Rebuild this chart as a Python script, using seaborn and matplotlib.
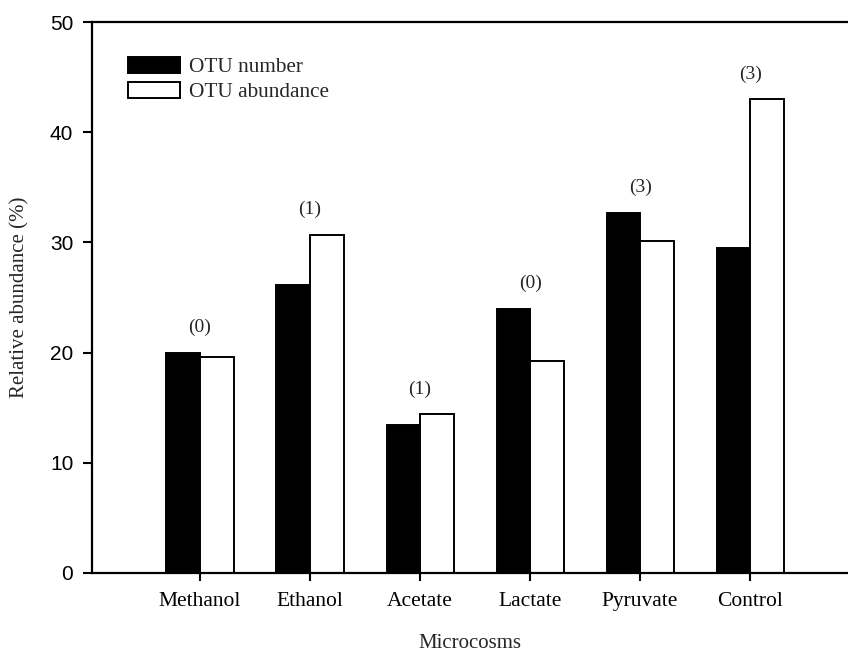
import matplotlib
matplotlib.use("Agg")
import matplotlib.pyplot as plt
import seaborn as sns
import pandas as pd

# Relative abundance (%) per microcosm
microcosms = ["Methanol", "Ethanol", "Acetate", "Lactate", "Pyruvate", "Control"]
otu_number = [20.0, 26.1, 13.4, 24.0, 32.7, 29.5]
otu_abundance = [19.6, 30.7, 14.4, 19.2, 30.1, 43.0]
# counts shown in parentheses above each group
group_counts = ["(0)", "(1)", "(1)", "(0)", "(3)", "(3)"]
series_names = ["OTU number", "OTU abundance"]
y_ticks = [0, 10, 20, 30, 40, 50]

df = pd.DataFrame({
    "Microcosm": microcosms * 2,
    "Series": [series_names[0]] * len(microcosms) + [series_names[1]] * len(microcosms),
    "Value": otu_number + otu_abundance,
})

sns.set_theme(style="ticks")
serif = ["Liberation Serif", "DejaVu Serif"]
sans = ["Liberation Sans", "DejaVu Sans"]

fig = plt.figure(figsize=(8.48, 6.55), dpi=100)
ax = fig.add_axes([92 / 848, 82 / 655, 1 - 92 / 848, 551 / 655])

sns.barplot(
    data=df, x="Microcosm", y="Value", hue="Series",
    order=microcosms, hue_order=series_names,
    palette=["black", "white"], edgecolor="black", linewidth=1.4,
    width=0.61, gap=0, errorbar=None, ax=ax,
)

ax.set_ylim(0, 50)
ax.set_xlim(-0.982, 5.89)
ax.set_yticks(y_ticks)
ax.set_yticklabels([str(t) for t in y_ticks], fontfamily=sans, fontsize=15)
ax.set_xticks(range(len(microcosms)))
ax.set_xticklabels(microcosms, fontfamily=serif, fontsize=15.5)
ax.tick_params(axis="y", direction="out", length=6.5, width=1.5, pad=7, colors="black")
ax.tick_params(axis="x", direction="out", length=6, width=1.5, pad=8, colors="black")

for side in ["left", "bottom", "top"]:
    ax.spines[side].set_visible(True)
    ax.spines[side].set_linewidth(1.6)
    ax.spines[side].set_color("black")
ax.spines["right"].set_visible(False)

ax.set_ylabel("Relative abundance (%)", fontfamily=serif, fontsize=15)
ax.set_xlabel("Microcosms", fontfamily=serif, fontsize=15)
ax.yaxis.set_label_coords(-0.083, 0.5)
ax.xaxis.set_label_coords(0.5, -0.11)

# group count labels above the taller bar of each pair
for i, label in enumerate(group_counts):
    top = max(otu_number[i], otu_abundance[i])
    ax.annotate(label, xy=(i, top), xytext=(0, 18), textcoords="offset points",
                ha="center", va="center", fontfamily=serif, fontsize=14)

handles, labels = ax.get_legend_handles_labels()
for h in handles:
    h.set_edgecolor("black")
    h.set_linewidth(1.4)
leg = ax.legend(
    handles, labels, loc="upper left",
    bbox_to_anchor=(128 / 848, 1 - 57 / 655), bbox_transform=fig.transFigure,
    frameon=False, prop={"family": serif, "size": 15.3},
    handlelength=2.45, handleheight=0.78, handletextpad=0.4,
    labelspacing=0.22, borderpad=0, borderaxespad=0,
)

fig.savefig("out.png", dpi=100, facecolor="white")
